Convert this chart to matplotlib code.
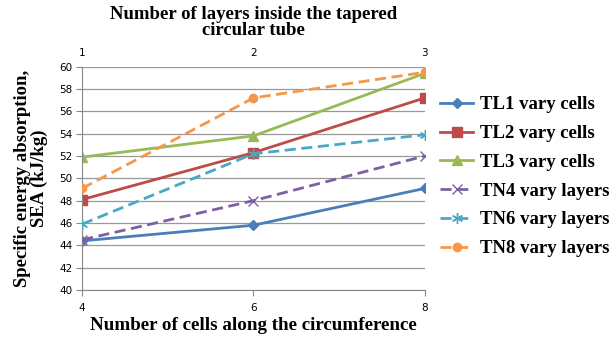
import matplotlib.pyplot as plt

cells = [4, 6, 8]
layers = [1, 2, 3]

tl1 = [44.4, 45.8, 49.1]
tl2 = [48.1, 52.3, 57.2]
tl3 = [51.9, 53.8, 59.4]
tn4 = [44.5, 48.0, 52.0]
tn6 = [45.9, 52.2, 53.9]
tn8 = [49.1, 57.2, 59.5]

serif = ["Liberation Serif", "DejaVu Serif"]

fig = plt.figure(figsize=(6.13, 3.4), dpi=100)
ax = fig.add_axes([0.134, 0.147, 0.559, 0.657])
ax2 = ax.twiny()

lines = []
lines += ax.plot(cells, tl1, color="#4A7EBB", lw=2, marker="D", ms=5, label="TL1 vary cells")
lines += ax.plot(cells, tl2, color="#BE4B48", lw=2, marker="s", ms=7, label="TL2 vary cells")
lines += ax.plot(cells, tl3, color="#98B954", lw=2, marker="^", ms=7, label="TL3 vary cells")
lines += ax2.plot(layers, tn4, color="#7D60A0", lw=2, ls=(0, (4, 2)), marker="x", ms=7, label="TN4 vary layers")
lines += ax2.plot(layers, tn6, color="#46AAC5", lw=2, ls=(0, (4, 2)), marker=(6, 2, 0), ms=8, label="TN6 vary layers")
lines += ax2.plot(layers, tn8, color="#F79646", lw=2, ls=(0, (4, 2)), marker="o", ms=6, label="TN8 vary layers")

for a in (ax, ax2):
    for s in a.spines.values():
        s.set_visible(False)
ax.spines["left"].set_visible(True)
ax.spines["bottom"].set_visible(True)
ax.spines["left"].set_color("#888888")
ax.spines["bottom"].set_color("#888888")

ax.set_xlim(4, 8)
ax2.set_xlim(1, 3)
ax.set_ylim(40, 60)
ax.set_xticks(cells)
ax2.set_xticks(layers)
ax.set_yticks(range(40, 61, 2))
ax.grid(axis="y", color="#999999", lw=0.9)
ax.set_axisbelow(True)
ax.tick_params(axis="both", labelsize=7.5, color="#888888", length=4, pad=3)
ax.tick_params(axis="x", pad=5)
ax2.tick_params(axis="x", labelsize=7.5, length=0, pad=6)

ax.set_xlabel("Number of cells along the circumference", family=serif,
              fontsize=13.7, fontweight="bold", labelpad=3)
ax2.set_xlabel("Number of layers inside the tapered\ncircular tube", family=serif,
               fontsize=13.5, fontweight="bold", labelpad=9.5, linespacing=0.9)
ax.set_ylabel("Specific energy absorption,\nSEA (kJ/kg)", family=serif,
              fontsize=13.5, fontweight="bold", labelpad=8, linespacing=1.0)

fig.legend(handles=lines, loc="center left", bbox_to_anchor=(0.705, 0.48),
           frameon=False, prop={"family": serif, "size": 13.5, "weight": "bold"},
           handlelength=1.8, labelspacing=0.62, handletextpad=0.35, borderaxespad=0)

fig.savefig("out.png", dpi=100)
